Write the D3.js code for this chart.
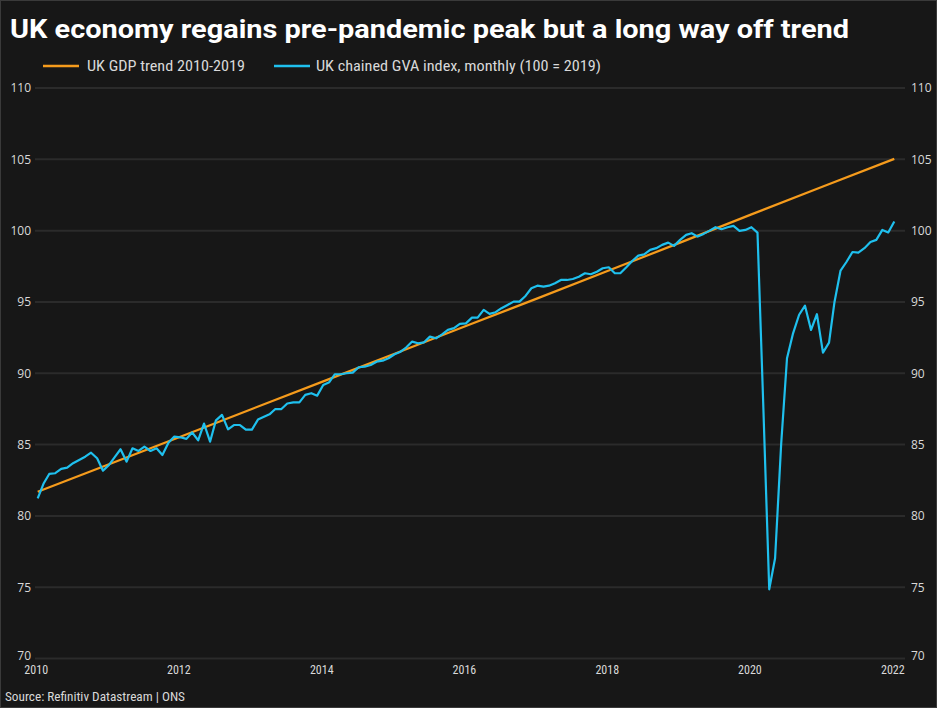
<!DOCTYPE html>
<html>
<head>
<meta charset="utf-8">
<script src="https://cdn.jsdelivr.net/npm/d3@7/dist/d3.min.js"></script>
<style>
  html, body { margin: 0; padding: 0; background: #171717; }
  svg { display: block; }
</style>
</head>
<body>
<svg id="chart" width="937" height="708"></svg>
<script>
// ---- Data ----
const startYear = 2010;            // monthly series begins Jan 2010
const gvaMonthly = [
  81.23, 82.29, 82.94, 82.99, 83.29, 83.38, 83.69, 83.92, 84.15, 84.43, 84.04, 83.17,
  83.57, 84.15, 84.67, 83.80, 84.74, 84.55, 84.85, 84.55, 84.74, 84.27, 85.13, 85.56,
  85.51, 85.40, 85.85, 85.30, 86.47, 85.20, 86.70, 87.08, 86.07, 86.37, 86.37, 86.05,
  86.05, 86.75, 86.93, 87.12, 87.49, 87.49, 87.88, 87.96, 87.96, 88.48, 88.60, 88.43,
  89.18, 89.37, 89.93, 89.93, 90.00, 90.04, 90.42, 90.46, 90.58, 90.81, 90.88, 91.05,
  91.33, 91.51, 91.80, 92.22, 92.10, 92.17, 92.57, 92.45, 92.73, 93.04, 93.16, 93.46,
  93.50, 93.90, 93.90, 94.44, 94.16, 94.28, 94.56, 94.79, 95.02, 95.02, 95.42, 95.96,
  96.14, 96.07, 96.14, 96.31, 96.54, 96.54, 96.61, 96.77, 97.01, 96.94, 97.12, 97.36,
  97.43, 97.01, 97.01, 97.43, 97.87, 98.25, 98.34, 98.65, 98.77, 99.00, 99.16, 98.93,
  99.35, 99.70, 99.82, 99.58, 99.77, 100.00, 100.24, 100.10, 100.24, 100.33, 99.98, 100.05,
  100.24, 99.86, 88.00, 74.85, 77.03, 85.00, 91.05, 92.80, 94.10, 94.74, 93.04, 94.14,
  91.45, 92.15, 95.00, 97.20, 97.80, 98.50, 98.46, 98.77, 99.20, 99.35, 100.05, 99.87,
  100.64
];
// Trend line values at each January, 2010..2022
const trendYears = [2010, 2011, 2012, 2013, 2014, 2015, 2016, 2017, 2018, 2019, 2020, 2021, 2022];
const trendValues = [81.69, 83.62, 85.55, 87.50, 89.43, 91.37, 93.31, 95.25, 97.20, 99.16, 101.14, 103.10, 105.03];
const yTicks = [70, 75, 80, 85, 90, 95, 100, 105, 110];
const xTickYears = [2010, 2012, 2014, 2016, 2018, 2020, 2022];

const titleText = "UK economy regains pre-pandemic peak but a long way off trend";
const legendLabels = ["UK GDP trend 2010-2019", "UK chained GVA index, monthly (100 = 2019)"];
const sourceText = "Source: Refinitiv Datastream | ONS";

// ---- Styling ----
const W = 937, H = 708;
const BG = "#171717", GRID = "#2b2b2b", TXT = "#d9d9d9";
const ORANGE = "#f59b1c", BLUE = "#1fc0ee";
const condensed = "'Liberation Sans Narrow', 'Roboto Condensed', Roboto, sans-serif";

const svg = d3.select("#chart");
svg.append("rect").attr("x", 0.5).attr("y", 0.5).attr("width", W - 1).attr("height", H - 1)
  .attr("fill", BG).attr("stroke", "#3a3a3a").attr("stroke-width", 1);

const x = d3.scaleTime()
  .domain([new Date(2010, 0, 1), new Date(2022, 0, 1)])
  .range([37.7, 894.3]);
const y = d3.scaleLinear().domain([70, 110]).range([658.5, 88]);

// gridlines
svg.append("g").selectAll("line").data(yTicks).join("line")
  .attr("x1", 35).attr("x2", 905)
  .attr("y1", d => y(d)).attr("y2", d => y(d))
  .attr("stroke", GRID).attr("stroke-width", 2);

// left axis
const yLeft = svg.append("g").attr("transform", "translate(31,0)")
  .call(d3.axisLeft(y).tickValues(yTicks).tickSize(0).tickPadding(0));
yLeft.select(".domain").remove();
yLeft.selectAll("text").attr("fill", TXT).attr("font-size", 12)
  .attr("font-family", "'Open Sans', 'Noto Sans', sans-serif")
  .attr("dy", d => d === 70 ? "0.1em" : "0.32em");

// right axis
const yRight = svg.append("g").attr("transform", "translate(911,0)")
  .call(d3.axisRight(y).tickValues(yTicks).tickSize(0).tickPadding(0));
yRight.select(".domain").remove();
yRight.selectAll("text").attr("fill", TXT).attr("font-size", 12)
  .attr("font-family", "'Open Sans', 'Noto Sans', sans-serif")
  .attr("dy", d => d === 70 ? "0.1em" : "0.32em");

// bottom axis
const xAxis = svg.append("g").attr("transform", "translate(-2,665)")
  .call(d3.axisBottom(x).tickValues(xTickYears.map(yr => new Date(yr, 0, 1)))
    .tickFormat(d3.timeFormat("%Y")).tickSize(0).tickPadding(0));
xAxis.select(".domain").remove();
xAxis.selectAll("text").attr("fill", TXT).attr("font-size", 12)
  .attr("font-family", condensed).attr("dy", "0.72em");

// trend line
const trendData = trendYears.map((yr, i) => ({ date: new Date(yr, 0, 1), v: trendValues[i] }));
svg.append("path").datum(trendData)
  .attr("fill", "none").attr("stroke", ORANGE).attr("stroke-width", 2.2)
  .attr("d", d3.line().x(d => x(d.date)).y(d => y(d.v)));

// GVA line
const gvaData = gvaMonthly.map((v, i) => ({ date: new Date(startYear, i, 1), v }));
svg.append("path").datum(gvaData)
  .attr("fill", "none").attr("stroke", BLUE).attr("stroke-width", 2.2)
  .attr("stroke-linejoin", "round")
  .attr("d", d3.line().x(d => x(d.date)).y(d => y(d.v)));

// title
svg.append("text").attr("x", 10).attr("y", 38)
  .attr("fill", "#ffffff").attr("font-family", "Roboto, 'Open Sans', sans-serif")
  .attr("font-weight", "bold").attr("font-size", 26)
  .attr("textLength", 839).attr("lengthAdjust", "spacingAndGlyphs")
  .text(titleText);

// legend
const legend = [
  { x1: 43, x2: 79, tx: 87, tw: 158, color: ORANGE, label: legendLabels[0] },
  { x1: 274, x2: 310, tx: 316, tw: 285, color: BLUE, label: legendLabels[1] }
];
const lg = svg.append("g");
lg.selectAll("line").data(legend).join("line")
  .attr("x1", d => d.x1).attr("x2", d => d.x2).attr("y1", 66).attr("y2", 66)
  .attr("stroke", d => d.color).attr("stroke-width", 2.5);
lg.selectAll("text").data(legend).join("text")
  .attr("x", d => d.tx).attr("y", 71)
  .attr("fill", TXT).attr("font-family", condensed).attr("font-size", 14)
  .attr("textLength", d => d.tw).attr("lengthAdjust", "spacingAndGlyphs")
  .text(d => d.label);

// source
svg.append("text").attr("x", 5).attr("y", 701)
  .attr("fill", TXT).attr("font-family", condensed).attr("font-size", 12)
  .attr("textLength", 180).attr("lengthAdjust", "spacingAndGlyphs")
  .text(sourceText);
</script>
</body>
</html>
